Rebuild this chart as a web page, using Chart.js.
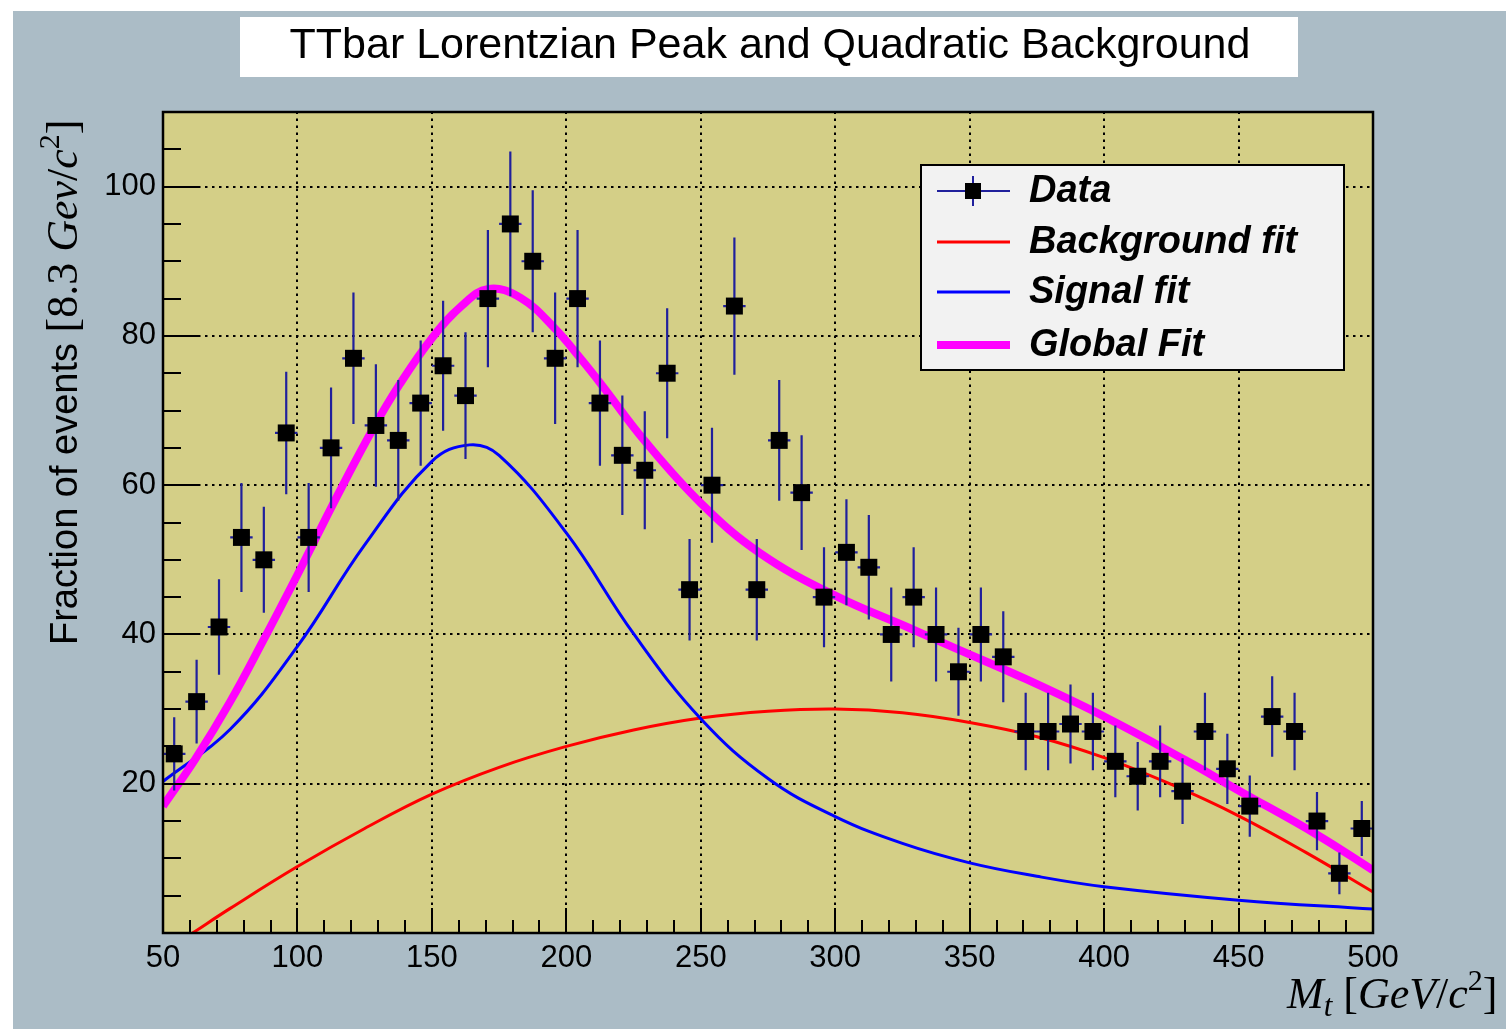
<!DOCTYPE html>
<html>
<head>
<meta charset="utf-8">
<script src="https://cdn.jsdelivr.net/npm/chart.js@4.4.0/dist/chart.umd.min.js"></script>
<style>
  html, body { margin: 0; padding: 0; background: #fff; }
  #wrap { width: 1506px; height: 1029px; }
</style>
</head>
<body>
<div id="wrap"><canvas id="fitChart" width="1506" height="1029"></canvas></div>
<script>
// --- values ---
const binCenters = [54.17, 62.5, 70.83, 79.17, 87.5, 95.83, 104.17, 112.5, 120.83, 129.17,
  137.5, 145.83, 154.17, 162.5, 170.83, 179.17, 187.5, 195.83, 204.17, 212.5,
  220.83, 229.17, 237.5, 245.83, 254.17, 262.5, 270.83, 279.17, 287.5, 295.83,
  304.17, 312.5, 320.83, 329.17, 337.5, 345.83, 354.17, 362.5, 370.83, 379.17,
  387.5, 395.83, 404.17, 412.5, 420.83, 429.17, 437.5, 445.83, 454.17, 462.5,
  470.83, 479.17, 487.5, 495.83];
const counts = [24, 31, 41, 53, 50, 67, 53, 65, 77, 68,
  66, 71, 76, 72, 85, 95, 90, 77, 85, 71,
  64, 62, 75, 46, 60, 84, 46, 66, 59, 45,
  51, 49, 40, 45, 40, 35, 40, 37, 27, 27,
  28, 27, 23, 21, 23, 19, 27, 22, 17, 29,
  27, 15, 8, 14];
const countErrors = [4.9, 5.6, 6.4, 7.3, 7.1, 8.2, 7.3, 8.1, 8.8, 8.2,
  8.1, 8.4, 8.7, 8.5, 9.2, 9.7, 9.5, 8.8, 9.2, 8.4,
  8.0, 7.9, 8.7, 6.8, 7.7, 9.2, 6.8, 8.1, 7.7, 6.7,
  7.1, 7.0, 6.3, 6.7, 6.3, 5.9, 6.3, 6.1, 5.2, 5.2,
  5.3, 5.2, 4.8, 4.6, 4.8, 4.4, 5.2, 4.7, 4.1, 5.4,
  5.2, 3.9, 2.8, 3.7];
const binHalfWidth = 4.17;

const bkgX = [61, 75, 100, 125, 150, 175, 200, 225, 250, 275, 300, 325, 350, 375, 400, 425, 450, 475, 500];
const bkgY = [0, 3.3, 8.9, 14.0, 18.6, 22.2, 25.0, 27.2, 28.8, 29.7, 30.0, 29.5, 28.2, 26.3, 23.5, 19.9, 15.7, 10.8, 5.5];

const sigX = [50, 75, 100, 125, 150, 164, 175, 200, 225, 250, 275, 300, 325, 350, 375, 400, 450, 500];
const sigY = [20.3, 27.3, 38.4, 52.0, 63.2, 65.4, 64.0, 53.6, 40.1, 28.7, 20.7, 15.6, 12.0, 9.4, 7.6, 6.2, 4.4, 3.2];

const globX = [50, 62, 75, 87, 100, 115, 128, 138, 150, 161, 171, 183, 196, 205, 213, 229, 250, 272, 300, 328, 345, 371, 400, 430, 450, 479, 500];
const globY = [17.0, 23.3, 31.0, 39.0, 48.0, 58.7, 67.5, 73.5, 79.7, 84.0, 86.3, 85.1, 80.9, 77.1, 73.5, 66.0, 57.6, 50.9, 45.2, 40.8, 38.1, 34.0, 29.0, 23.2, 19.1, 13.2, 8.4];

const xTickValues = [50, 100, 150, 200, 250, 300, 350, 400, 450, 500];
const yTickValues = [20, 40, 60, 80, 100];

const titleText = 'TTbar Lorentzian Peak and Quadratic Background';
const legendOrder = ['Data', 'Background fit', 'Signal fit', 'Global Fit'];

const toPoints = (xs, ys) => xs.map((x, i) => ({ x: x, y: ys[i] }));

const ERR_BLUE = '#20209c';

function drawRich(ctx, parts, x, y) {
    let cx = x;
    parts.forEach(p => {
        ctx.font = p.font;
        ctx.fillText(p.t, cx, y + (p.dy || 0));
        cx += ctx.measureText(p.t).width;
    });
}

// ROOT-like canvas: background, frame, dotted grid, inner ticks, legend, axis titles
const rootStyle = {
    id: 'rootStyle',
    beforeDraw(chart) {
        const { ctx, chartArea: a, scales } = chart;
        ctx.save();
        ctx.fillStyle = '#ffffff';
        ctx.fillRect(0, 0, chart.width, chart.height);
        ctx.fillStyle = '#abbcc6';
        ctx.fillRect(13, 11, chart.width - 13, chart.height - 11);
        ctx.fillStyle = '#d4cf87';
        ctx.fillRect(a.left, a.top, a.right - a.left, a.bottom - a.top);

        // title box
        ctx.fillStyle = '#ffffff';
        ctx.fillRect(240, 17, 1058, 60);
        ctx.fillStyle = '#000';
        ctx.font = '43px "Liberation Sans"';
        ctx.textAlign = 'center';
        ctx.textBaseline = 'middle';
        ctx.fillText(titleText, 770, 46);

        // dotted grid
        ctx.strokeStyle = '#000';
        ctx.lineWidth = 2;
        ctx.setLineDash([2.5, 4.5]);
        xTickValues.forEach(v => {
            if (v <= scales.x.min || v >= scales.x.max) return;
            const px = Math.round(scales.x.getPixelForValue(v));
            ctx.beginPath(); ctx.moveTo(px, a.bottom); ctx.lineTo(px, a.top); ctx.stroke();
        });
        yTickValues.forEach(v => {
            const py = Math.round(scales.y.getPixelForValue(v));
            ctx.beginPath(); ctx.moveTo(a.left, py); ctx.lineTo(a.right, py); ctx.stroke();
        });
        ctx.restore();
    },
    beforeDatasetDraw(chart, args) {
        if (args.index !== 0) return;
        const { ctx, scales: { x, y } } = chart;
        ctx.save();
        ctx.strokeStyle = ERR_BLUE;
        ctx.lineWidth = 2.2;
        binCenters.forEach((bx, i) => {
            const px = x.getPixelForValue(bx);
            const py = y.getPixelForValue(counts[i]);
            ctx.beginPath();
            ctx.moveTo(x.getPixelForValue(bx - binHalfWidth), py);
            ctx.lineTo(x.getPixelForValue(bx + binHalfWidth), py);
            ctx.moveTo(px, y.getPixelForValue(counts[i] - countErrors[i]));
            ctx.lineTo(px, y.getPixelForValue(counts[i] + countErrors[i]));
            ctx.stroke();
        });
        ctx.restore();
    },
    afterDraw(chart) {
        const { ctx, chartArea: a, scales } = chart;
        ctx.save();
        ctx.strokeStyle = '#000';

        // inner ticks, left and bottom
        ctx.lineWidth = 2;
        for (let v = 0; v <= scales.y.max; v += 5) {
            const py = Math.round(scales.y.getPixelForValue(v));
            const len = v % 20 === 0 ? 35 : 18;
            ctx.beginPath(); ctx.moveTo(a.left, py); ctx.lineTo(a.left + len, py); ctx.stroke();
        }
        for (let v = scales.x.min; v <= scales.x.max; v += 10) {
            const px = Math.round(scales.x.getPixelForValue(v));
            const len = v % 50 === 0 ? 25 : 13;
            ctx.beginPath(); ctx.moveTo(px, a.bottom); ctx.lineTo(px, a.bottom - len); ctx.stroke();
        }

        // frame
        ctx.lineWidth = 2.5;
        ctx.strokeRect(a.left, a.top, a.right - a.left, a.bottom - a.top);

        // legend
        const lx = 921, ly = 165, lw = 423, lh = 205;
        ctx.fillStyle = '#f2f2f2';
        ctx.fillRect(lx, ly, lw, lh);
        ctx.lineWidth = 2;
        ctx.strokeRect(lx, ly, lw, lh);
        const rowY = [191, 242, 292, 345];
        ctx.textAlign = 'left';
        ctx.textBaseline = 'middle';
        legendOrder.forEach((name, i) => {
            const ds = chart.data.datasets.find(d => d.label === name);
            const yy = rowY[i];
            if (name === 'Data') {
                ctx.strokeStyle = ERR_BLUE;
                ctx.lineWidth = 2;
                ctx.beginPath();
                ctx.moveTo(937, yy); ctx.lineTo(1010, yy);
                ctx.moveTo(973, yy - 15); ctx.lineTo(973, yy + 15);
                ctx.stroke();
                ctx.fillStyle = '#000';
                ctx.fillRect(965, yy - 8, 16, 16);
            } else {
                ctx.strokeStyle = ds.borderColor;
                ctx.lineWidth = ds.borderWidth;
                ctx.beginPath(); ctx.moveTo(937, yy); ctx.lineTo(1010, yy); ctx.stroke();
            }
            ctx.fillStyle = '#000';
            ctx.font = 'italic bold 38px "Liberation Sans"';
            ctx.fillText(ds.label, 1029, yy + 1);
        });

        // axis titles
        ctx.fillStyle = '#000';
        ctx.textBaseline = 'alphabetic';
        ctx.textAlign = 'left';
        const serif = '"Liberation Serif", "DejaVu Serif", serif';
        ctx.save();
        ctx.translate(77, 645);
        ctx.rotate(-Math.PI / 2);
        drawRich(ctx, [
            { t: 'Fraction of events ', font: '38px "Liberation Sans"' },
            { t: '[8.3 ', font: '44px ' + serif },
            { t: 'Gev', font: 'italic 44px ' + serif },
            { t: '/', font: '44px ' + serif },
            { t: 'c', font: 'italic 44px ' + serif },
            { t: '2', font: '30px ' + serif, dy: -18 },
            { t: ']', font: '44px ' + serif }
        ], 0, 0);
        ctx.restore();

        drawRich(ctx, [
            { t: 'M', font: 'italic 44px ' + serif },
            { t: 't', font: 'italic 31px ' + serif, dy: 8 },
            { t: ' [', font: '44px ' + serif },
            { t: 'GeV', font: 'italic 44px ' + serif },
            { t: '/', font: '44px ' + serif },
            { t: 'c', font: 'italic 44px ' + serif },
            { t: '2', font: '30px ' + serif, dy: -18 },
            { t: ']', font: '44px ' + serif }
        ], 1287, 1008);
        ctx.restore();
    }
};

const tickFont = { family: 'Liberation Sans', size: 31 };

new Chart(document.getElementById('fitChart'), {
    type: 'scatter',
    data: {
        datasets: [
            {
                label: 'Data',
                data: toPoints(binCenters, counts),
                pointStyle: 'rect',
                pointRadius: 12,
                backgroundColor: '#000',
                borderColor: '#000',
                borderWidth: 0,
                order: 0
            },
            {
                label: 'Global Fit',
                type: 'line',
                data: toPoints(globX, globY),
                borderColor: '#ff00ff',
                borderWidth: 8,
                pointRadius: 0,
                fill: false,
                tension: 0.4,
                order: 1
            },
            {
                label: 'Signal fit',
                type: 'line',
                data: toPoints(sigX, sigY),
                borderColor: '#0000ff',
                borderWidth: 3,
                pointRadius: 0,
                fill: false,
                tension: 0.4,
                order: 2
            },
            {
                label: 'Background fit',
                type: 'line',
                data: toPoints(bkgX, bkgY),
                borderColor: '#ff0000',
                borderWidth: 3,
                pointRadius: 0,
                fill: false,
                tension: 0.4,
                order: 3
            }
        ]
    },
    options: {
        responsive: false,
        animation: false,
        events: [],
        layout: { padding: { left: 0, top: 112, right: 133, bottom: 36 } },
        plugins: {
            legend: { display: false },
            title: { display: false },
            tooltip: { enabled: false }
        },
        scales: {
            x: {
                type: 'linear',
                min: 50,
                max: 500,
                grid: { display: false, drawTicks: false },
                border: { display: false },
                ticks: { color: '#000', font: tickFont, padding: 7, maxRotation: 0 },
                afterBuildTicks(scale) { scale.ticks = xTickValues.map(v => ({ value: v })); },
                afterFit(scale) { scale.height = 60; }
            },
            y: {
                type: 'linear',
                min: 0,
                max: 110,
                grid: { display: false, drawTicks: false },
                border: { display: false },
                ticks: { color: '#000', font: tickFont, padding: 7 },
                afterBuildTicks(scale) { scale.ticks = yTickValues.map(v => ({ value: v })); },
                afterFit(scale) { scale.width = 163; }
            }
        }
    },
    plugins: [rootStyle]
});
</script>
</body>
</html>
